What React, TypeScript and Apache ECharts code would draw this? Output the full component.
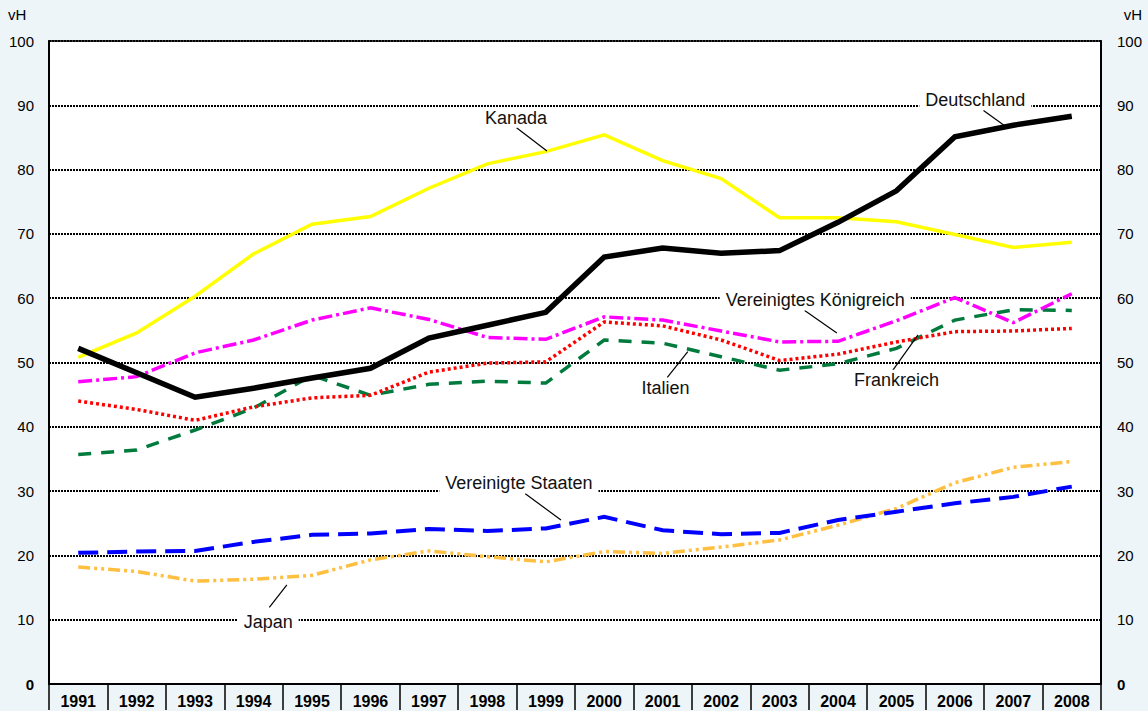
import React, { useEffect, useRef } from "react";
import * as echarts from "echarts";

const years = ["1991","1992","1993","1994","1995","1996","1997","1998","1999","2000","2001","2002","2003","2004","2005","2006","2007","2008"];
const deutschland = [52.2, 48.4, 44.6, 46.0, 47.6, 49.1, 53.8, 55.8, 57.8, 66.4, 67.8, 67.0, 67.4, 71.8, 76.7, 85.1, 86.9, 88.3];
const kanada = [50.8, 54.6, 60.3, 66.9, 71.5, 72.7, 77.1, 80.9, 82.8, 85.4, 81.4, 78.6, 72.5, 72.5, 71.9, 69.9, 67.9, 68.7];
const vereinigtesKoenigreich = [47.0, 47.8, 51.5, 53.5, 56.6, 58.5, 56.7, 53.9, 53.6, 57.1, 56.6, 54.9, 53.2, 53.3, 56.5, 60.1, 56.2, 60.7];
const frankreich = [44.0, 42.7, 41.0, 43.1, 44.5, 44.9, 48.5, 49.9, 50.1, 56.3, 55.7, 53.5, 50.3, 51.3, 53.2, 54.8, 54.9, 55.3];
const italien = [35.7, 36.4, 39.5, 42.9, 48.0, 44.9, 46.6, 47.1, 46.8, 53.5, 53.0, 50.9, 48.8, 49.8, 52.2, 56.6, 58.2, 58.1];
const vereinigteStaaten = [20.4, 20.6, 20.7, 22.1, 23.2, 23.4, 24.1, 23.8, 24.2, 26.0, 23.9, 23.3, 23.5, 25.5, 26.8, 28.1, 29.1, 30.7];
const japan = [18.2, 17.5, 16.0, 16.3, 16.9, 19.3, 20.7, 19.8, 19.0, 20.6, 20.3, 21.3, 22.4, 24.7, 27.3, 31.3, 33.7, 34.6];

const yMin = 0;
const yMax = 100;
const yInterval = 10;
const unitLabel = "vH";

// Annotations in data space: [category index (fractional), value]
const noteTexts = ["Kanada", "Deutschland", "Vereinigtes Königreich", "Italien", "Frankreich", "Vereinigte Staaten", "Japan"];
const noteAt: [number, number][] = [[7.49, 88.1], [15.35, 90.9], [12.61, 59.7], [10.05, 46.0], [14.0, 47.3], [7.54, 31.3], [3.25, 9.6]];
const noteFrom: [number, number][] = [[7.5, 86.5], [15.49, 89.2], [12.43, 58.1], [10.08, 47.7], [13.93, 48.7], [7.65, 29.6], [3.27, 11.9]];
const noteTo: [number, number][] = [[8.02, 82.9], [15.84, 86.9], [12.98, 54.6], [10.43, 51.7], [14.37, 54.3], [8.26, 25.5], [3.57, 15.4]];

const FONT = "Arial, 'Liberation Sans', Helvetica, sans-serif";

const seriesList = [
  { name: "Japan", data: japan, color: "#FFBF40", width: 3.5, dash: [12, 4, 3, 4, 3, 4] as any },
  { name: "Vereinigte Staaten", data: vereinigteStaaten, color: "#0000FF", width: 4, dash: [20, 9] as any },
  { name: "Italien", data: italien, color: "#007A3D", width: 3.5, dash: [13, 10] as any },
  { name: "Frankreich", data: frankreich, color: "#FF0000", width: 3.5, dash: [3, 3] as any },
  { name: "Vereinigtes Königreich", data: vereinigtesKoenigreich, color: "#FF00FF", width: 3.5, dash: [14, 4, 3, 4] as any },
  { name: "Kanada", data: kanada, color: "#FFFF00", width: 3.5, dash: "solid" as any },
  { name: "Deutschland", data: deutschland, color: "#000000", width: 5.5, dash: "solid" as any },
];

export default function App() {
  const ref = useRef<HTMLDivElement>(null);

  useEffect(() => {
    document.body.style.margin = "0";
    if (!ref.current) return;
    const chart = echarts.init(ref.current, null, { renderer: "svg" });

    const yLabel = (v: number) => (v === 0 ? "{b|0}" : String(v));
    const yLabelStyle = {
      formatter: yLabel,
      color: "#000",
      fontSize: 15,
      fontFamily: FONT,
      rich: { b: { fontWeight: "bold", fontSize: 15, fontFamily: FONT, color: "#000" } },
    };

    chart.setOption({
      animation: false,
      backgroundColor: "#EDF5F8",
      textStyle: { fontFamily: FONT },
      grid: {
        left: 49,
        right: 47,
        top: 41,
        bottom: 27,
        show: true,
        backgroundColor: "#FFFFFF",
        borderColor: "#000",
        borderWidth: 1.5,
      },
      xAxis: {
        type: "category",
        data: years,
        boundaryGap: true,
        axisLine: { show: true, lineStyle: { color: "#000", width: 2 } },
        axisTick: { show: true, interval: 0, length: 26, lineStyle: { color: "#000", width: 1.5 } },
        axisLabel: { interval: 0, color: "#000", fontSize: 16, fontWeight: "bold", fontFamily: FONT, margin: 9 },
        splitLine: { show: false },
      },
      yAxis: [
        {
          type: "value",
          position: "left",
          min: yMin,
          max: yMax,
          interval: yInterval,
          axisLine: { show: true, lineStyle: { color: "#000", width: 2 } },
          axisTick: { show: false },
          axisLabel: { ...yLabelStyle, margin: 15 },
          splitLine: { show: true, lineStyle: { color: "#000", width: 2, type: [2, 1] } },
        },
        {
          type: "value",
          position: "right",
          min: yMin,
          max: yMax,
          interval: yInterval,
          axisLine: { show: true, lineStyle: { color: "#000", width: 2 } },
          axisTick: { show: false },
          axisLabel: { ...yLabelStyle, margin: 16 },
          splitLine: { show: false },
        },
      ],
      series: seriesList.map((s) => ({
        name: s.name,
        type: "line",
        data: s.data,
        yAxisIndex: 0,
        showSymbol: false,
        symbol: "none",
        lineStyle: { color: s.color, width: s.width, type: s.dash, cap: "butt", join: "miter" },
        itemStyle: { color: s.color },
        emphasis: { disabled: true },
        silent: true,
      })),
    });

    const toPx = (p: [number, number]) => {
      const a = chart.convertToPixel({ xAxisIndex: 0, yAxisIndex: 0 }, [0, p[1]]) as number[];
      const b = chart.convertToPixel({ xAxisIndex: 0, yAxisIndex: 0 }, [1, p[1]]) as number[];
      return [a[0] + (b[0] - a[0]) * p[0], a[1]];
    };

    const graphics: any[] = [
      { type: "text", left: 8, top: 7, z: 100, style: { text: unitLabel, font: `15px ${FONT}`, fill: "#000" } },
      { type: "text", right: 6, top: 7, z: 100, style: { text: unitLabel, font: `15px ${FONT}`, fill: "#000" } },
    ];
    noteTexts.forEach((t, i) => {
      const c = toPx(noteAt[i]);
      const f = toPx(noteFrom[i]);
      const e = toPx(noteTo[i]);
      graphics.push({
        type: "line",
        z: 100,
        silent: true,
        shape: { x1: f[0], y1: f[1], x2: e[0], y2: e[1] },
        style: { stroke: "#000", lineWidth: 1.2 },
      });
      graphics.push({
        type: "text",
        z: 101,
        silent: true,
        x: c[0],
        y: c[1],
        style: {
          text: t,
          font: `18px ${FONT}`,
          fill: "#111",
          align: "center",
          verticalAlign: "middle",
          backgroundColor: "#FFFFFF",
          padding: [1, 6],
        },
      });
    });
    chart.setOption({ graphic: graphics });

    return () => {
      chart.dispose();
    };
  }, []);

  return (
    <div
      ref={ref}
      style={{ position: "absolute", left: 0, top: 0, width: 1148, height: 711, background: "#EDF5F8" }}
    />
  );
}
